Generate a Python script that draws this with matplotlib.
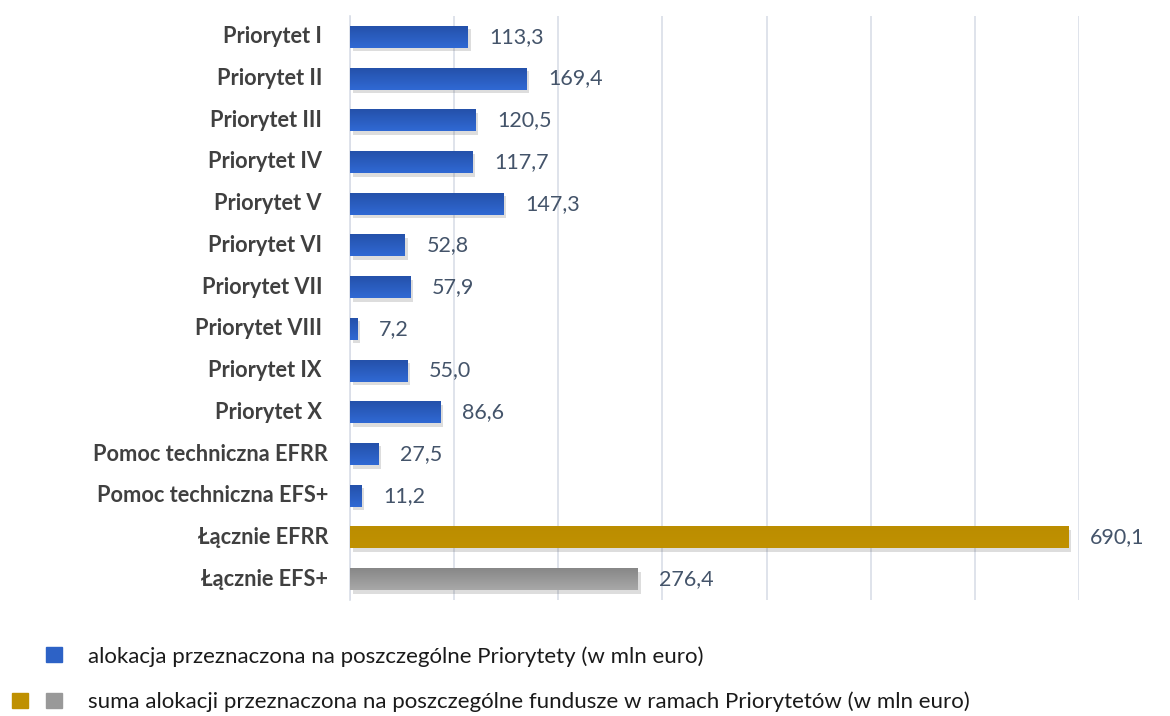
import matplotlib
matplotlib.use("Agg")
import matplotlib.pyplot as plt
import matplotlib.patheffects as pe
from matplotlib.patches import Rectangle
from matplotlib.colors import LinearSegmentedColormap
import numpy as np

categories = ["Priorytet I", "Priorytet II", "Priorytet III", "Priorytet IV", "Priorytet V",
              "Priorytet VI", "Priorytet VII", "Priorytet VIII", "Priorytet IX", "Priorytet X",
              "Pomoc techniczna EFRR", "Pomoc techniczna EFS+", "Łącznie EFRR", "Łącznie EFS+"]
values = [113.3, 169.4, 120.5, 117.7, 147.3, 52.8, 57.9, 7.2, 55.0, 86.6, 27.5, 11.2, 690.1, 276.4]
kinds = ["prio"] * 12 + ["efrr", "efs"]
legend_labels = ["alokacja przeznaczona na poszczególne Priorytety (w mln euro)",
                 "suma alokacji przeznaczona na poszczególne fundusze w ramach Priorytetów (w mln euro)"]

colors = {"prio": "#2D62C6", "efrr": "#BF9000", "efs": "#999999"}
grads = {"prio": ("#3069D4", "#2450A8"), "efrr": ("#C09100", "#BB8D00"), "efs": ("#A8A8A8", "#868686")}
FONT = "Lato"

fig = plt.figure(figsize=(11.7, 7.16), dpi=100)
ax = fig.add_axes([350 / 1170, 1 - 600 / 716, (1079 - 350) / 1170, (600 - 16) / 716])

y = list(range(len(categories)))
bars = ax.barh(y, values, height=0.53, color=[colors[k] for k in kinds], zorder=3)
for b, k in zip(bars, kinds):
    b.set_path_effects([pe.SimplePatchShadow(offset=(2, -2.5), alpha=0.18, shadow_rgbFace="#444444"), pe.Normal()])
    cmap = LinearSegmentedColormap.from_list("g", list(grads[k]))
    x0, yb, w, h = b.get_x(), b.get_y(), b.get_width(), b.get_height()
    im = ax.imshow(np.linspace(0, 1, 64).reshape(-1, 1), cmap=cmap, aspect="auto",
                   extent=(x0, x0 + w, yb, yb + h), origin="upper", zorder=4, interpolation="bilinear")
    im.set_clip_path(b)

for yi, v in zip(y, values):
    ax.annotate(f"{v:.1f}".replace(".", ","), (v, yi), xytext=(15.5, 0), textcoords="offset points",
                va="center", ha="left", fontsize=15.5, color="#44546A", family=FONT)

for yi, c in zip(y, categories):
    pad = 28 if c.startswith("Priorytet") else 22
    ax.annotate(c, (0, yi), xycoords=("axes fraction", "data"), xytext=(-pad * 0.72, 0),
                textcoords="offset points", va="center", ha="right", fontsize=15.7,
                fontweight="bold", color="#404040", family=FONT)

ax.set_xlim(0, 700)
ax.set_ylim(len(categories) - 0.5, -0.5)
ax.set_xticks(range(0, 701, 100))
ax.xaxis.grid(True, color="#D9DEE8", linewidth=1.2, zorder=0)
ax.tick_params(axis="both", length=0, labelbottom=False, labelleft=False)
ax.set_yticks(y)
for s in ["top", "right", "bottom"]:
    ax.spines[s].set_visible(False)
ax.spines["left"].set_color("#D9DEE8")
ax.spines["left"].set_linewidth(1.2)

# legend
def sq(x, yt, c):
    fig.add_artist(Rectangle((x / 1170, 1 - (yt + 15) / 716), 16 / 1170, 15 / 716,
                             transform=fig.transFigure, color=c))

sq(46, 647, colors["prio"])
sq(12, 693, colors["efrr"])
sq(46, 693, colors["efs"])
fig.text(88 / 1170, 1 - 657 / 716, legend_labels[0], fontsize=16, va="center", ha="left",
         color="#1A1A1A", family=FONT)
fig.text(88 / 1170, 1 - 702 / 716, legend_labels[1], fontsize=16, va="center", ha="left",
         color="#1A1A1A", family=FONT)

fig.savefig("out.png", dpi=100)
